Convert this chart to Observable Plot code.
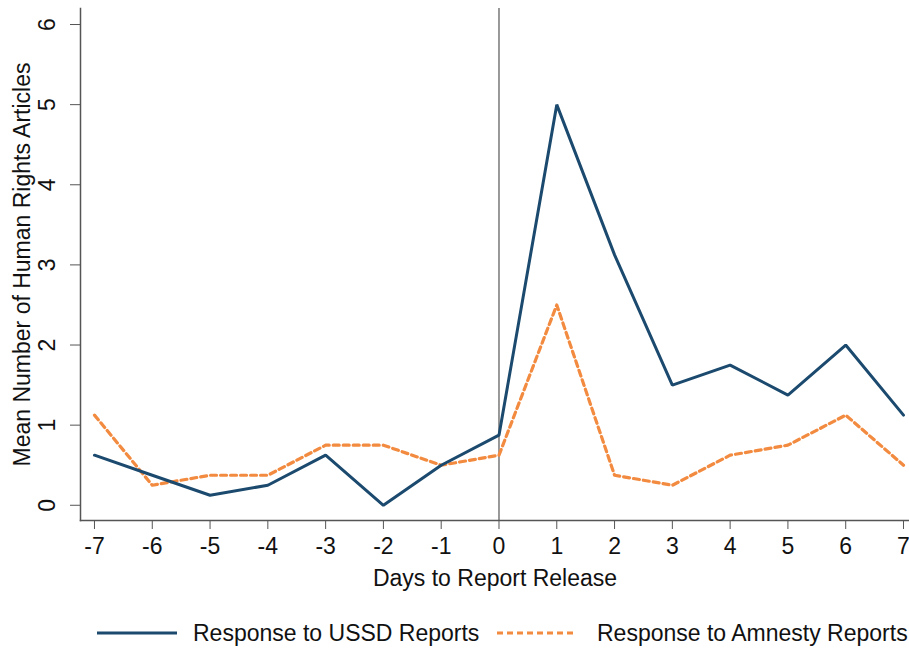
<!DOCTYPE html>
<html>
<head>
<meta charset="utf-8">
<script src="https://cdn.jsdelivr.net/npm/d3@7"></script>
<script src="https://cdn.jsdelivr.net/npm/@observablehq/plot@0.6"></script>
<style>
  body { margin: 0; background: #fff; font-family: "Liberation Sans", Arial, sans-serif; overflow: hidden; }
  #chart svg { display: block; }
  #legend { position: relative; height: 53px; width: 909px; font-size: 23px; color: #111; }
  #legend .item { position: absolute; top: 18px; display: flex; align-items: center; height: 40px; white-space: nowrap; }
</style>
</head>
<body>
<div id="chart"></div>
<div id="legend"></div>
<script>
const days = [-7,-6,-5,-4,-3,-2,-1,0,1,2,3,4,5,6,7];
const ussd = [0.625,0.375,0.125,0.25,0.625,0,0.5,0.875,5,3.125,1.5,1.75,1.375,2,1.125];
const amnesty = [1.125,0.25,0.375,0.375,0.75,0.75,0.5,0.625,2.5,0.375,0.25,0.625,0.75,1.125,0.5];
const yTicks = [0,1,2,3,4,5,6];
const seriesNames = ["Response to USSD Reports", "Response to Amnesty Reports"];
const colors = ["#1b4a6e", "#f28a3f"];

const rows = [];
days.forEach((d, i) => {
  rows.push({day: d, value: ussd[i], series: seriesNames[0]});
  rows.push({day: d, value: amnesty[i], series: seriesNames[1]});
});

const plot = Plot.plot({
  width: 909,
  height: 595,
  marginLeft: 80,
  marginRight: 0,
  marginTop: 8,
  marginBottom: 75,
  style: {fontFamily: "'Liberation Sans', Arial, sans-serif", fontSize: "23px", color: "#111", background: "#fff", overflow: "visible"},
  x: {domain: [-7.242, 7.104]},
  y: {domain: [-0.19, 6.2]},
  marks: [
    Plot.ruleX([0], {stroke: "#777", strokeWidth: 1.5}),
    Plot.axisX({ticks: days, tickFormat: d => String(d), tickSize: 9, tickPadding: 8, stroke: "#555",
      label: "Days to Report Release", labelAnchor: "center", labelArrow: false, labelOffset: 65, fontSize: 23}),
    Plot.axisY({ticks: yTicks, tickFormat: d => String(d), tickSize: 10, tickPadding: 16, tickRotate: -90, stroke: "#555",
      label: "Mean Number of Human Rights Articles", labelAnchor: "center", labelArrow: false, labelOffset: 67, fontSize: 23}),
    Plot.frame({anchor: "left", stroke: "#555", strokeWidth: 1.5}),
    Plot.frame({anchor: "bottom", stroke: "#555", strokeWidth: 1.5}),
    Plot.line(rows.filter(r => r.series === seriesNames[1]), {x: "day", y: "value", stroke: colors[1], strokeWidth: 3.2, strokeDasharray: "6,4", strokeLinejoin: "round"}),
    Plot.line(rows.filter(r => r.series === seriesNames[0]), {x: "day", y: "value", stroke: colors[0], strokeWidth: 3, strokeLinejoin: "miter"})
  ]
});
document.getElementById("chart").appendChild(plot);

const legend = document.getElementById("legend");
const items = [
  {left: 97, gap: 16, text: seriesNames[0], color: colors[0], dash: null},
  {left: 497, gap: 20, text: seriesNames[1], color: colors[1], dash: "6,4"}
];
items.forEach(it => {
  const div = document.createElement("div");
  div.className = "item";
  div.style.left = it.left + "px";
  div.innerHTML = `<svg width="80" height="10" style="margin-right:${it.gap}px"><line x1="0" y1="5" x2="80" y2="5" stroke="${it.color}" stroke-width="3" ${it.dash ? `stroke-dasharray="${it.dash}"` : ""}/></svg><span>${it.text}</span>`;
  legend.appendChild(div);
});
</script>
</body>
</html>
